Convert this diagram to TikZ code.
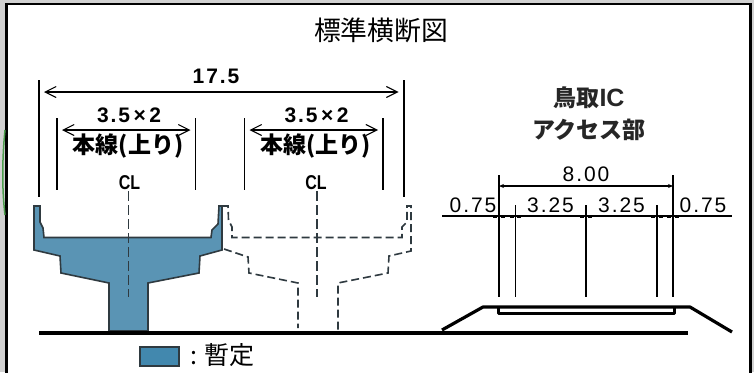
\documentclass[tikz,border=0pt]{standalone}
\usepackage{fontspec}
\usetikzlibrary{arrows.meta}
\newfontfamily\cjk{Noto Sans CJK JP}
\newfontfamily\dimfont[LetterSpace=9]{Liberation Sans}
\newfontfamily\latn{Liberation Sans}
\definecolor{bridgefill}{HTML}{5A94B4}
\definecolor{legendfill}{HTML}{4288AE}
\definecolor{edge}{HTML}{2F3A40}
\tikzset{
  px/.style={x=1pt,y=-1pt},
  tick/.style={draw=black,line width=1.1pt},
  dim/.style={draw=black,line width=1.1pt,{Straight Barb[length=11pt,width=11pt]}-{Straight Barb[length=11pt,width=11pt]}},
  dimsmall/.style={draw=black,line width=1.2pt,{Stealth[length=5pt,width=4pt]}-{Stealth[length=5pt,width=4pt]}},
  lab/.style={inner sep=0pt,text=black},
  center/.style={draw=edge,line width=1.3pt,dash pattern=on 10pt off 4pt},
  future/.style={draw=edge,line width=1.6pt,dash pattern=on 8pt off 4pt},
  built/.style={draw=edge,line width=1.6pt,fill=bridgefill},
  bigdim/.style={font=\dimfont\bfseries\fontsize{21}{22}\selectfont},
  smalldim/.style={font=\dimfont\fontsize{21}{22}\selectfont},
  headl/.style={font=\cjk\bfseries\fontsize{23}{24}\selectfont},
  cll/.style={font=\latn\bfseries\fontsize{20}{22}\selectfont,xscale=.8},
}
\begin{document}
\begin{tikzpicture}[px]
\useasboundingbox (0,0) rectangle (754,372);
\fill[black!18] (0,0) rectangle (754,372);
\fill[white,draw=black,line width=2.5pt] (6.5,4) rectangle (750.5,380);
\draw[green!45!black!70,line width=1.5pt] (5,130) .. controls (2,160) and (2,190) .. (5,215);
\node[lab,font=\cjk\fontsize{26.8}{28}\selectfont] (title) at (381,30) {標準横断図};
\coordinate (a1) at (39,80); \coordinate (a2) at (39,197);
\coordinate (b1) at (404,80); \coordinate (b2) at (404,197);
\coordinate (c1) at (57,118); \coordinate (c2) at (57,190);
\coordinate (d1) at (195.5,118); \coordinate (d2) at (195.5,190);
\coordinate (e1) at (244.5,118); \coordinate (e2) at (244.5,190);
\coordinate (f1) at (383,118); \coordinate (f2) at (383,190);
\foreach \p/\q in {a1/a2,b1/b2,c1/c2,d1/d2,e1/e2,f1/f2} \draw[tick] (\p) -- (\q);
\coordinate (g1) at (44,92); \coordinate (g2) at (398.5,92);
\draw[dim] (g1) -- (g2);
\coordinate (h1) at (62,130); \coordinate (h2) at (190.5,130);
\coordinate (i1) at (249.5,130); \coordinate (i2) at (378,130);
\draw[dim] (h1) -- (h2);
\draw[dim] (i1) -- (i2);
\node[lab,bigdim] (t175) at (216,76) {17.5};
\node[lab,bigdim] (t35a) at (129,115) {3.5\,×\,2};
\node[lab,bigdim] (t35b) at (316.5,115) {3.5\,×\,2};
\node[lab,headl] (ha) at (128,146) {本線(上り)};
\node[lab,headl] (hb) at (315.5,146) {本線(上り)};
\node[lab,cll] (cla) at (129.5,183) {CL};
\node[lab,cll] (clb) at (316,183) {CL};
\draw[built] (34,206) -- (40,206) -- (40,222) -- (43,228) -- (44,237.5) -- (211,237.5) -- (212,230) -- (218,224) -- (219,206) -- (222,206) -- (222,250) -- (200,256) -- (199,273) -- (148,283) -- (148,331) -- (109,331) -- (109,283) -- (61,273) -- (60,256) -- (34,250) -- cycle;
\draw[future] (222,206) -- (228,206) -- (228.5,220) -- (232,227) -- (232,237.5) -- (402,237.5) -- (402,227) -- (407,222) -- (407,206) -- (411,206) -- (411,251) -- (389,256) -- (388,273) -- (338,283) -- (338,331);
\draw[future] (224,249) -- (248,257) -- (249,273) -- (298,283) -- (298,328);
\coordinate (cea) at (128.5,191); \coordinate (ceb) at (128.5,297);
\coordinate (cec) at (317,191); \coordinate (ced) at (317,297);
\draw[center] (cea) -- (ceb);
\draw[center] (cec) -- (ced);
\coordinate (gl) at (39,333); \coordinate (gr) at (688,333);
\draw[black,line width=4pt] (gl) -- (gr);
\node[draw=edge,line width=1.6pt,fill=legendfill,minimum width=39pt,minimum height=19pt,inner sep=0pt] (leg) at (159.5,356.5) {};
\node[lab,anchor=west,font=\cjk\fontsize{25}{26}\selectfont] (legt) at (190,355) {: 暫定};
\node[lab,text=black!85,font=\cjk\bfseries\fontsize{23}{24}\selectfont] (ra) at (589,98) {鳥取{\latn\fontsize{25}{26}\selectfont IC}};
\node[lab,text=black!85,font=\cjk\bfseries\fontsize{23}{24}\selectfont] (rb) at (589,130) {アクセス部};
\node[lab,smalldim] (t8) at (586,174) {8.00};
\coordinate (j1) at (499,175); \coordinate (j2) at (499,297);
\coordinate (k1) at (515.5,205); \coordinate (k2) at (515.5,297);
\coordinate (l1) at (586,205); \coordinate (l2) at (586,297);
\coordinate (m1) at (657,205); \coordinate (m2) at (657,297);
\coordinate (n1) at (673,175); \coordinate (n2) at (673,297);
\foreach \p/\q in {j1/j2,k1/k2,l1/l2,m1/m2,n1/n2} \draw[black,line width=1.6pt] (\p) -- (\q);
\coordinate (o1) at (499,186); \coordinate (o2) at (673,186);
\draw[dimsmall] (o1) -- (o2);
\coordinate (p1) at (442,216); \coordinate (p2) at (732,216);
\draw[black,line width=1.2pt] (p1) -- (p2);
\foreach \x in {495,503,512,519,582,590,653,661,669,677}
  \fill[black] (\x-2,214.5) rectangle (\x+2,217.5);
\node[lab,smalldim] (q1) at (473,205) {0.75};
\node[lab,smalldim] (q2) at (550.5,205) {3.25};
\node[lab,smalldim] (q3) at (621.5,205) {3.25};
\node[lab,smalldim] (q4) at (703,205) {0.75};
\coordinate (ra1) at (442,330); \coordinate (ra2) at (483,307); \coordinate (ra3) at (690,307); \coordinate (ra4) at (732,332);
\draw[black,line width=3.2pt,line join=round] (ra1) -- (ra2) -- (ra3) -- (ra4);
\draw[black,line width=3pt,line join=round] (498.5,307) -- (498.5,313.5) -- (674,313.5) -- (674,307);
\end{tikzpicture}
\end{document}
